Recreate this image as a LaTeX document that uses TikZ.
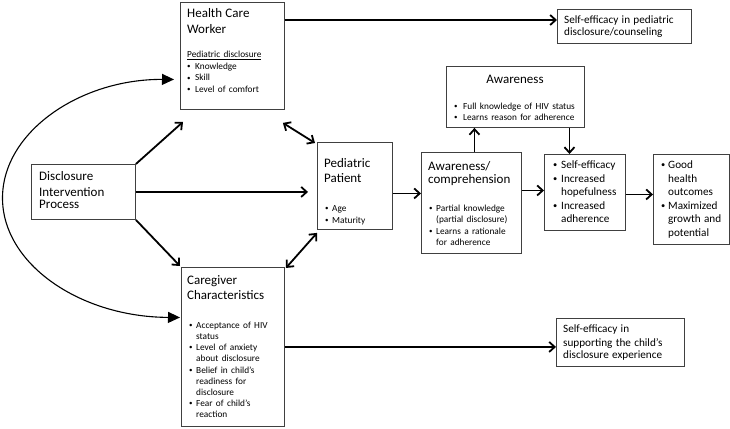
\documentclass[tikz,border=0pt]{standalone}
\usepackage{graphicx}
\usepackage{fontspec}
\setmainfont{Carlito}
\usetikzlibrary{arrows.meta,calc}
\newcommand\ttlf{\fontsize{13}{16}\selectfont}
\newcommand\smlf{\fontsize{9.3}{11.5}\selectfont}
\newcommand\mdlf{\fontsize{11.2}{13.5}\selectfont}
\newlength\bw
\setlength\bw{8pt}
\newcommand\bul{\raisebox{0.08em}{\scalebox{0.75}{\textbullet}}}
\newcommand\bl[2][0pt]{\par\setlength\hangindent{\dimexpr#1+\bw\relax}\hangafter=1\noindent\hspace*{#1}\makebox[\bw][l]{\bul}#2\par}
\newcommand\blfirst[2][0pt]{\setlength\hangindent{\dimexpr#1+\bw\relax}\hangafter=1\hspace*{#1}\makebox[\bw][l]{\bul}#2\par}
\newcommand\nl{\hfil\break}
\tikzset{
  bx/.style={draw=black!75, line width=0.9pt, inner sep=0pt, anchor=north west, fill=white},
  txt/.style={anchor=base west, inner sep=0pt, align=left, text width=#1},
  arr/.style={line width=1.8pt, -{Straight Barb[length=5.5pt,width=10pt]}},
  dbl/.style={line width=1.8pt, {Straight Barb[length=5.5pt,width=10pt]}-{Straight Barb[length=5.5pt,width=10pt]}},
  crv/.style={line width=1.1pt, {Triangle[length=12pt,width=11pt]}-{Triangle[length=12pt,width=11pt]}}
}
\begin{document}
\begin{tikzpicture}[x=1pt,y=-1pt]
\path[use as bounding box, fill=white] (0,0) rectangle (730,428);
% boxes
\node[bx, minimum width=104pt, minimum height=107pt] (hcw) at (180,2) {};
\node[bx, minimum width=104pt, minimum height=55pt] (dip) at (31,164) {};
\node[bx, minimum width=103pt, minimum height=159pt] (cg) at (181,267) {};
\node[bx, minimum width=75pt, minimum height=87pt] (ped) at (317,142) {};
\node[bx, minimum width=100pt, minimum height=101pt] (ac) at (421,152) {};
\node[bx, minimum width=138pt, minimum height=61pt] (aw) at (446,66) {};
\node[bx, minimum width=81pt, minimum height=76pt] (se) at (544,154) {};
\node[bx, minimum width=76pt, minimum height=90pt] (gh) at (653,154) {};
\node[bx, minimum width=134pt, minimum height=34pt] (se1) at (557,9) {};
\node[bx, minimum width=128pt, minimum height=48pt] (se2) at (556,318) {};
% texts
\node[txt=95pt] (hcwt) at (187,18) {\ttlf Health Care\\Worker\par\vspace{12.3pt}\smlf\underline{Pediatric disclosure}\bl{Knowledge}\bl{Skill}\bl{Level of comfort}};
\node[txt=95pt] (dipt) at (39,180.5) {\ttlf Disclosure\\Intervention\\Process};
\node[txt=70pt] (pedt) at (324,167) {\fontsize{13}{15.5}\selectfont Pediatric\\Patient\par\vspace{16.5pt}\fontsize{9.3}{12}\selectfont\setlength\bw{7pt}\bl[1pt]{Age}\bl[1pt]{Maturity}};
\node[txt=95pt] (act) at (428,170) {\fontsize{13}{13.3}\selectfont Awareness/\\comprehension\par\vspace{16.5pt}\smlf\setlength\bw{7pt}\bl[1pt]{Partial knowledge\nl (partial disclosure)}\bl[1pt]{Learns a rationale\nl for adherence}};
\node[anchor=base, inner sep=0pt, font=\ttlf] (awt) at (515,83) {Awareness};
\node[txt=128pt] (awl) at (454,109) {\smlf\setlength\bw{9pt}\blfirst{Full knowledge of HIV status}\bl{Learns reason for adherence}};
\node[txt=78pt] (sect) at (553,168.8) {\mdlf\setlength\bw{8pt}\blfirst{Self-efficacy}\bl{Increased\nl hopefulness}\bl{Increased\nl adherence}};
\node[txt=70pt] (ght) at (661,168.8) {\mdlf\setlength\bw{7pt}\blfirst{Good\nl health\nl outcomes}\bl{Maximized\nl growth and\nl potential}};
\node[txt=130pt] (se1t) at (564,23.8) {\fontsize{11.2}{13.3}\selectfont Self-efficacy in pediatric\\disclosure/counseling};
\node[txt=125pt] (se2t) at (563,332.8) {\fontsize{11.2}{13.3}\selectfont Self-efficacy in\\supporting the child's\\disclosure experience};
\node[txt=100pt] (cgt) at (187,284.5) {\fontsize{13}{15}\selectfont Caregiver\\Characteristics\par\vspace{17.6pt}\fontsize{9.3}{11.2}\selectfont\setlength\bw{7pt}\bl[2pt]{Acceptance of HIV\nl status}\bl[2pt]{Level of anxiety\nl about disclosure}\bl[2pt]{Belief in child's\nl readiness for\nl disclosure}\bl[2pt]{Fear of child's\nl reaction}};
% connectors
\coordinate (h1) at ([yshift=-18pt]hcw.north east);
\draw[arr] (h1) -- (h1 -| se1.west);
\draw[arr] (cg.east) -- (cg.east -| se2.west);
\draw[arr] (dip.north east) -- ([xshift=3pt,yshift=-12pt]hcw.south west);
\draw[arr] (dip.south east) -- ([xshift=-1pt,yshift=1pt]cg.north west);
\draw[arr, shorten >=9pt] (dip.east) -- (dip.east -| ped.west);
\draw[dbl] ([xshift=-2pt,yshift=-13pt]hcw.south east) -- ([xshift=-2pt,yshift=-1pt]ped.north west);
\draw[dbl] ([xshift=1pt,yshift=-1pt]cg.north east) -- ([yshift=-3pt]ped.south west);
\coordinate (p1) at ([yshift=-7.5pt]ped.east);
\draw[arr] (p1) -- (p1 -| ac.west);
\coordinate (c1) at ([xshift=3pt]ac.north);
\draw[arr] (c1) -- (c1 |- aw.south);
\coordinate (s1) at ([xshift=-15.5pt]se.north);
\draw[arr] (s1 |- aw.south) -- (s1);
\coordinate (s2) at ([yshift=2pt]se.west);
\draw[arr] (s2 -| ac.east) -- (s2);
\coordinate (g1) at ([yshift=-2pt]se.east);
\draw[arr] (g1) -- (g1 -| gh.west);
\coordinate (k1) at ([xshift=-6pt,yshift=-23.5pt]hcw.west);
\coordinate (k2) at ([xshift=-1pt,yshift=29.5pt]cg.west);
\coordinate (kl) at (2.5,198);
\draw[crv] (k1) .. controls (80,79) and (2.5,132) .. (kl) .. controls (2.5,264) and (80,317) .. (k2);
\end{tikzpicture}
\end{document}
